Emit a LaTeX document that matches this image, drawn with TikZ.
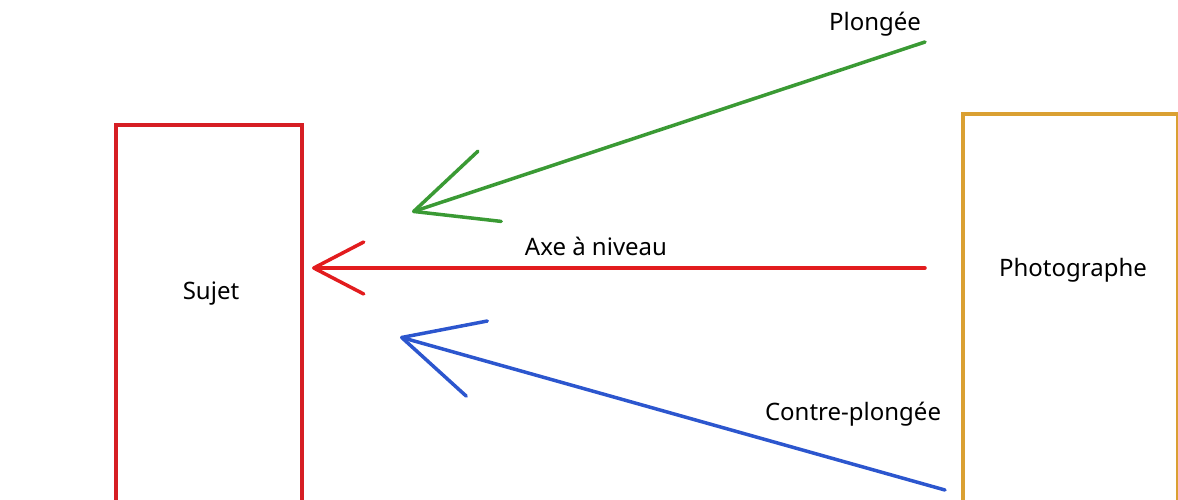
\documentclass[tikz,border=0pt]{standalone}
\usepackage{fontspec}
\setmainfont{Noto Sans}
\usepackage{xcolor}
\definecolor{sujetred}{RGB}{214,30,36}
\definecolor{photoorange}{RGB}{218,160,50}
\definecolor{plongeegreen}{RGB}{58,154,52}
\definecolor{niveaured}{RGB}{226,28,30}
\definecolor{contreblue}{RGB}{44,86,206}
\usetikzlibrary{arrows.meta,positioning}

\begin{document}
\begin{tikzpicture}[
    x=1pt, y=-1pt,
    font=\fontsize{24}{28}\selectfont,
    cadre/.style={rectangle, draw, line width=3.5pt, minimum height=430pt, anchor=north west, inner sep=0pt},
    axe/.style={line width=3.5pt, line cap=round},
    legende/.style={inner sep=1pt}
]
    \useasboundingbox (0,0) rectangle (1178,499);
    \clip (0,0) rectangle (1178,499);

    % Subject and photographer (boxes run past the bottom edge)
    \node[cadre, draw=sujetred, minimum width=186pt] (sujet) at (114,123) {};
    \node[legende] (sujet-txt) at (211,294) {Sujet};

    \node[cadre, draw=photoorange, minimum width=215pt] (photo) at (961,112) {};
    \node[legende] (photo-txt) at (1073,270) {Photographe};

    % Shooting axes
    \coordinate (plongee-start) at (925,42);
    \coordinate (plongee-tip) at (412,212);
    \coordinate (niveau-start) at (925,268);
    \coordinate (niveau-tip) at (312,268);
    \coordinate (contre-start) at (945,490);
    \coordinate (contre-tip) at (400,337);

    \draw[axe, plongeegreen, -{Straight Barb[length=80pt, width=74pt, round]}] (plongee-start) -- (plongee-tip);
    \draw[axe, niveaured, -{Straight Barb[length=50pt, width=52pt, round]}] (niveau-start) -- (niveau-tip);
    \draw[axe, contreblue, -{Straight Barb[length=78pt, width=78pt, round]}] (contre-start) -- (contre-tip);

    % Labels
    \node[legende] (plongee-txt) at (875,24) {Plongée};
    \node[legende] (niveau-txt) at (596,246) {Axe à niveau};
    \node[legende] (contre-txt) at (853,414) {Contre-plongée};
\end{tikzpicture}
\end{document}
